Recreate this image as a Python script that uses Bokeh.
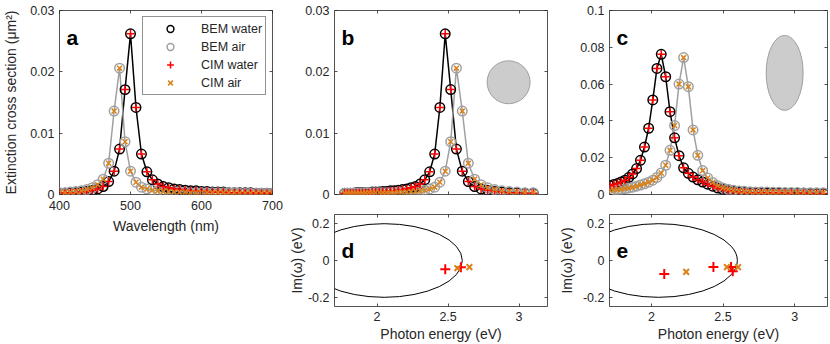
from bokeh.plotting import figure
from bokeh.models import (Range1d, FixedTicker, LinearAxis, Label, Legend, LegendItem,
                          CustomJSTickFormatter)
from bokeh.layouts import row, column
from bokeh.embed import file_html
from bokeh.resources import INLINE

FONT = "Liberation Sans"
AXC = "#262626"
GRAY = "#a0a0a0"
RED = "#ff0000"
ORANGE = "#d9821a"
SHAPE_FILL = "#cccccc"
SHAPE_LINE = "#8a8a8a"

# ---------------- data ----------------
# sphere (panels a, b)
wavelength_nm = [400.0, 407.7, 415.4, 423.1, 430.8, 438.5, 446.2, 453.8, 461.5, 469.2,
                 476.9, 484.6, 492.3, 500.0, 507.7, 515.4, 523.1, 530.8, 538.5, 546.2,
                 553.8, 561.5, 569.2, 576.9, 584.6, 592.3, 600.0, 607.7, 615.4, 623.1,
                 630.8, 638.5, 646.2, 653.8, 661.5, 669.2, 676.9, 684.6, 692.3, 700.0]
sphere_water = [0.0002, 0.0002, 0.0003, 0.0003, 0.0004, 0.0005, 0.0007, 0.0009, 0.0013, 0.0021,
                0.0038, 0.0074, 0.0171, 0.0262, 0.0142, 0.0066, 0.0037, 0.0024, 0.0017, 0.0013,
                0.0011, 0.0009, 0.0008, 0.0007, 0.0006, 0.0006, 0.0005, 0.0005, 0.0004, 0.0004,
                0.0004, 0.0003, 0.0003, 0.0003, 0.0003, 0.0003, 0.0002, 0.0002, 0.0002, 0.0002]
sphere_air = [0.0003, 0.0003, 0.0004, 0.0005, 0.0006, 0.0008, 0.0011, 0.0016, 0.0025, 0.0051,
              0.0136, 0.0206, 0.0086, 0.0038, 0.0020, 0.0012, 0.0009, 0.0007, 0.0006, 0.0005,
              0.0005, 0.0004, 0.0004, 0.0004, 0.0003, 0.0003, 0.0003, 0.0003, 0.0003, 0.0003,
              0.0003, 0.0003, 0.0003, 0.0002, 0.0002, 0.0002, 0.0002, 0.0002, 0.0002, 0.0002]

# ellipsoid (panel c)
ellip_energy_eV = [1.713, 1.738, 1.764, 1.789, 1.816, 1.842, 1.869, 1.897, 1.924, 1.952,
                   1.981, 2.010, 2.039, 2.069, 2.100, 2.130, 2.162, 2.193, 2.225, 2.258,
                   2.291, 2.324, 2.358, 2.393, 2.428, 2.464, 2.500, 2.536, 2.573, 2.611,
                   2.649, 2.688, 2.727, 2.767, 2.808, 2.849, 2.890, 2.933, 2.976, 3.019,
                   3.063, 3.108, 3.154, 3.200]
ellip_water = [0.0048, 0.0054, 0.0060, 0.0068, 0.0078, 0.0092, 0.0112, 0.0141, 0.0186, 0.0258,
               0.0360, 0.0514, 0.0685, 0.0762, 0.0640, 0.0450, 0.0308, 0.0211, 0.0145, 0.0115,
               0.0095, 0.0080, 0.0068, 0.0056, 0.0045, 0.0035, 0.0027, 0.0020, 0.0016, 0.0013,
               0.0011, 0.0010, 0.0009, 0.0009, 0.0008, 0.0008, 0.0008, 0.0007, 0.0007, 0.0007,
               0.0007, 0.0006, 0.0006, 0.0006]
ellip_air = [0.0022, 0.0024, 0.0026, 0.0029, 0.0032, 0.0036, 0.0040, 0.0045, 0.0051, 0.0058,
             0.0067, 0.0078, 0.0093, 0.0117, 0.0159, 0.0240, 0.0375, 0.0600, 0.0744, 0.0586,
             0.0351, 0.0213, 0.0130, 0.0090, 0.0065, 0.0048, 0.0036, 0.0028, 0.0023, 0.0019,
             0.0017, 0.0015, 0.0014, 0.0013, 0.0013, 0.0012, 0.0012, 0.0011, 0.0011, 0.0011,
             0.0010, 0.0010, 0.0010, 0.0010]

# CIM poles (panels d, e)
sphere_pole_water_re = [2.48, 2.59]
sphere_pole_water_im = [-0.047, -0.037]
sphere_pole_air_re = [2.565, 2.65]
sphere_pole_air_im = [-0.042, -0.036]
ellip_pole_water_re = [2.09, 2.433, 2.556, 2.568]
ellip_pole_water_im = [-0.073, -0.036, -0.036, -0.058]
ellip_pole_air_re = [2.243, 2.527, 2.605]
ellip_pole_air_im = [-0.062, -0.036, -0.036]

# integration contour (ellipse) in the complex plane
contour_center_re = [2.05]
contour_center_im = [0.0]
contour_width = [1.10]
contour_height = [0.40]

# particle sketches
sphere_sketch = dict(x=[2.926], y=[0.0183])
ellip_sketch = dict(x=[2.93], y=[0.0661])

sphere_energy_eV = [1239.84 / w for w in wavelength_nm]


# ---------------- helpers ----------------
def base_fig(w, h, xr, yr, bl, br, bt, bb):
    p = figure(width=w, height=h, x_range=Range1d(*xr), y_range=Range1d(*yr),
               output_backend="svg", toolbar_location=None,
               min_border_left=bl, min_border_right=br,
               min_border_top=bt, min_border_bottom=bb)
    p.xgrid.visible = False
    p.ygrid.visible = False
    p.outline_line_color = AXC
    p.outline_line_width = 0.8
    p.border_fill_color = "white"
    p.background_fill_color = "white"
    top = LinearAxis()
    right = LinearAxis()
    p.add_layout(top, "above")
    p.add_layout(right, "right")
    return p, p.below[0], p.left[0], top, right


def style(ax, ticks, show_labels, label=None, standoff=5, label_standoff=1):
    ax.ticker = FixedTicker(ticks=ticks, minor_ticks=[])
    ax.axis_line_color = None
    ax.major_tick_in = 3
    ax.major_tick_out = 0
    ax.major_tick_line_color = AXC
    ax.major_tick_line_width = 0.8
    ax.minor_tick_line_color = None
    if show_labels:
        ax.formatter = CustomJSTickFormatter(code="return String(Math.round(tick*1000)/1000);")
        ax.major_label_text_font = FONT
        ax.major_label_text_font_size = "12.5px"
        ax.major_label_text_color = AXC
        ax.major_label_standoff = standoff
    else:
        ax.formatter = CustomJSTickFormatter(code="return '';")
        ax.major_label_text_font_size = "0px"
        ax.major_label_standoff = 0
    if label:
        ax.axis_label = label
        ax.axis_label_text_font = FONT
        ax.axis_label_text_font_size = "14px"
        ax.axis_label_text_font_style = "normal"
        ax.axis_label_text_color = AXC
        ax.axis_label_standoff = label_standoff


def spectrum(p, x, yw, ya):
    p.line(x, yw, line_color="black", line_width=1.5)
    p.line(x, ya, line_color=GRAY, line_width=1.5)
    r1 = p.scatter(x, yw, marker="circle", size=9.5, fill_color=None,
                   line_color="black", line_width=1.5)
    r2 = p.scatter(x, ya, marker="circle", size=9.5, fill_color=None,
                   line_color=GRAY, line_width=1.5)
    r3 = p.scatter(x, yw, marker="cross", size=8, line_color=RED, line_width=1.5)
    r4 = p.scatter(x, ya, marker="x", size=7, line_color=ORANGE, line_width=1.5)
    return r1, r2, r3, r4


def letter(p, text, x, y, dy):
    p.add_layout(Label(x=x, y=y, x_offset=7, y_offset=-dy, text=text,
                       text_font=FONT, text_font_style="bold", text_font_size="21px",
                       text_color="black", text_baseline="alphabetic"))


def poles(p, wr, wi, ar, ai):
    p.ellipse(x=contour_center_re, y=contour_center_im, width=contour_width,
              height=contour_height, fill_color=None, line_color="black", line_width=1)
    p.scatter(wr, wi, marker="cross", size=10, line_color=RED, line_width=2)
    p.scatter(ar, ai, marker="x", size=8, line_color=ORANGE, line_width=2)


E_RANGE_B = (1.7, 3.2)
E_RANGE_C = (1.708, 3.229)
E_TICKS = [2, 2.5, 3]

# ---------------- panel a ----------------
fa, ab, al, at, ar_ = base_fig(285, 344, (400, 700), (0, 0.03), 55, 13, 10, 150)
style(ab, [400, 500, 600, 700], True, "Wavelength (nm)", standoff=6, label_standoff=5)
style(al, [0, 0.01, 0.02, 0.03], True, "Extinction cross section (μm²)", standoff=5, label_standoff=8)
style(at, [400, 500, 600, 700], False)
style(ar_, [0, 0.01, 0.02, 0.03], False)
ra = spectrum(fa, wavelength_nm, sphere_water, sphere_air)
letter(fa, "a", 400, 0.03, 27)
legend = Legend(items=[LegendItem(label="BEM water", renderers=[ra[0]]),
                       LegendItem(label="BEM air", renderers=[ra[1]]),
                       LegendItem(label="CIM water", renderers=[ra[2]]),
                       LegendItem(label="CIM air", renderers=[ra[3]])],
                location=(83, 99))
legend.label_text_font = FONT
legend.label_text_font_size = "12.5px"
legend.label_text_color = AXC
legend.border_line_color = AXC
legend.border_line_width = 0.8
legend.background_fill_color = "white"
legend.background_fill_alpha = 1
legend.padding = 3
legend.spacing = 1
legend.margin = 0
legend.glyph_height = 17
legend.glyph_width = 48
legend.label_height = 17
legend.label_standoff = 7
fa.add_layout(legend)

# ---------------- panel b ----------------
fb, bb_, bl, bt, br = base_fig(270, 204, E_RANGE_B, (0, 0.03), 46, 8, 10, 10)
style(bb_, E_TICKS, False)
style(bl, [0, 0.01, 0.02, 0.03], True, standoff=5)
style(bt, E_TICKS, False)
style(br, [0, 0.01, 0.02, 0.03], False)
fb.scatter(sphere_sketch["x"], sphere_sketch["y"], marker="circle", size=43,
           fill_color=SHAPE_FILL, line_color=SHAPE_LINE, line_width=0.75)
spectrum(fb, sphere_energy_eV, sphere_water, sphere_air)
letter(fb, "b", E_RANGE_B[0], 0.03, 27)

# ---------------- panel d ----------------
fd, db, dl, dt, dr = base_fig(270, 140, E_RANGE_B, (-0.25, 0.25), 46, 8, 10, 38)
style(db, E_TICKS, True, "Photon energy (eV)", standoff=5, label_standoff=2)
style(dl, [-0.2, 0, 0.2], True, "Im(ω) (eV)", standoff=5, label_standoff=0)
style(dt, E_TICKS, False)
style(dr, [-0.2, 0, 0.2], False)
poles(fd, sphere_pole_water_re, sphere_pole_water_im, sphere_pole_air_re, sphere_pole_air_im)
letter(fd, "d", E_RANGE_B[0], 0.25, 36)

# ---------------- panel c ----------------
fc, cb, cl, ct, cr = base_fig(275, 204, E_RANGE_C, (0, 0.1), 53, 3, 10, 10)
style(cb, E_TICKS, False)
style(cl, [0, 0.02, 0.04, 0.06, 0.08, 0.1], True, standoff=5)
style(ct, E_TICKS, False)
style(cr, [0, 0.02, 0.04, 0.06, 0.08, 0.1], False)
fc.ellipse(x=ellip_sketch["x"], y=ellip_sketch["y"], width=37, height=75,
           width_units="screen", height_units="screen",
           fill_color=SHAPE_FILL, line_color=SHAPE_LINE, line_width=0.75)
spectrum(fc, ellip_energy_eV, ellip_water, ellip_air)
letter(fc, "c", E_RANGE_C[0], 0.1, 27)

# ---------------- panel e ----------------
fe, eb, el, et, er = base_fig(275, 140, E_RANGE_C, (-0.25, 0.25), 53, 3, 10, 38)
style(eb, E_TICKS, True, "Photon energy (eV)", standoff=5, label_standoff=2)
style(el, [-0.2, 0, 0.2], True, "Im(ω) (eV)", standoff=5, label_standoff=5)
style(et, E_TICKS, False)
style(er, [-0.2, 0, 0.2], False)
poles(fe, ellip_pole_water_re, ellip_pole_water_im, ellip_pole_air_re, ellip_pole_air_im)
letter(fe, "e", E_RANGE_C[0], 0.25, 36)

layout = row(fa, column(fb, fd), column(fc, fe))
open("out.html", "w").write(file_html(layout, INLINE))
